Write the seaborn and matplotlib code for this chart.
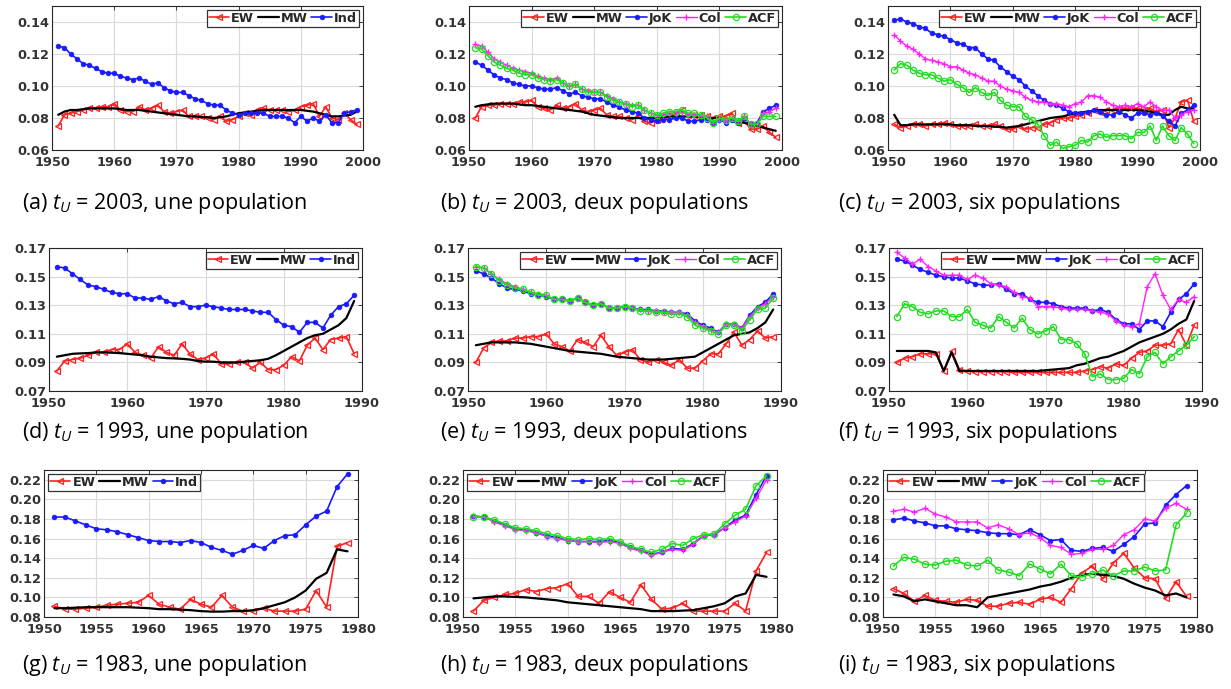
import numpy as np
import pandas as pd
import matplotlib
matplotlib.use("Agg")
import matplotlib.pyplot as plt
import seaborn as sns

# ---------------- data ----------------
years_a = list(range(1951, 2000))
years_d = list(range(1951, 1990))
years_g = list(range(1951, 1980))

# (a) tU=2003, une population
ew_a = [0.075,0.082,0.083,0.084,0.085,0.086,0.086,0.087,0.087,0.089,0.085,0.084,0.084,0.087,0.085,0.086,0.088,0.084,0.083,0.084,
        0.085,0.081,0.081,0.081,0.080,0.079,0.081,0.078,0.079,0.081,0.083,0.082,0.085,0.086,0.085,0.085,0.085,0.084,0.085,0.087,
        0.088,0.089,0.081,0.087,0.080,0.079,0.083,0.079,0.076]
mw_a = [0.082,0.084,0.085,0.085,0.0855,0.086,0.086,0.086,0.086,0.086,0.0855,0.085,0.085,0.085,0.0845,0.084,0.0835,0.083,0.0825,0.082,
        0.0815,0.081,0.081,0.0805,0.0805,0.080,0.0805,0.081,0.082,0.083,0.0835,0.084,0.0845,0.085,0.085,0.085,0.085,0.085,0.085,0.085,
        0.0845,0.084,0.083,0.082,0.081,0.081,0.0815,0.082,0.084]
ind_a = [0.125,0.124,0.120,0.117,0.114,0.113,0.111,0.109,0.108,0.108,0.106,0.105,0.104,0.105,0.103,0.101,0.102,0.099,0.097,0.096,
         0.096,0.094,0.092,0.091,0.089,0.088,0.088,0.085,0.083,0.082,0.083,0.083,0.083,0.083,0.081,0.081,0.081,0.080,0.077,0.081,
         0.078,0.080,0.078,0.082,0.077,0.077,0.083,0.084,0.085]

# (b) tU=2003, deux populations
ew_b = [0.080,0.087,0.088,0.088,0.089,0.089,0.089,0.090,0.090,0.091,0.087,0.086,0.085,0.088,0.086,0.087,0.089,0.085,0.084,0.085,
        0.086,0.082,0.081,0.081,0.080,0.079,0.081,0.078,0.077,0.079,0.081,0.081,0.083,0.085,0.082,0.082,0.082,0.081,0.080,0.081,
        0.081,0.083,0.077,0.078,0.073,0.073,0.075,0.071,0.068]
mw_b = [0.087,0.088,0.0885,0.089,0.089,0.089,0.089,0.0885,0.088,0.088,0.0875,0.087,0.0865,0.086,0.0855,0.085,0.0845,0.084,0.083,0.082,
        0.0815,0.081,0.0805,0.080,0.080,0.080,0.080,0.080,0.080,0.080,0.0805,0.081,0.081,0.081,0.081,0.081,0.0805,0.080,0.080,0.080,
        0.079,0.078,0.0775,0.077,0.076,0.075,0.074,0.073,0.072]
jok_b = [0.115,0.113,0.110,0.107,0.105,0.104,0.102,0.101,0.100,0.100,0.099,0.098,0.098,0.099,0.097,0.095,0.096,0.094,0.093,0.092,
         0.092,0.090,0.088,0.087,0.085,0.084,0.083,0.080,0.079,0.078,0.079,0.079,0.080,0.080,0.078,0.078,0.079,0.079,0.077,0.079,
         0.077,0.079,0.077,0.080,0.076,0.077,0.084,0.086,0.088]
col_b = [0.126,0.125,0.121,0.117,0.115,0.113,0.111,0.110,0.109,0.108,0.106,0.105,0.104,0.105,0.102,0.100,0.101,0.098,0.097,0.096,
         0.096,0.094,0.092,0.090,0.089,0.088,0.088,0.085,0.083,0.082,0.082,0.083,0.083,0.084,0.082,0.082,0.081,0.081,0.077,0.080,
         0.078,0.080,0.078,0.081,0.076,0.076,0.083,0.084,0.086]
acf_b = [0.124,0.123,0.119,0.115,0.113,0.111,0.110,0.108,0.107,0.107,0.105,0.104,0.103,0.104,0.102,0.100,0.101,0.098,0.096,0.096,
         0.096,0.093,0.091,0.090,0.089,0.087,0.088,0.085,0.083,0.082,0.083,0.084,0.084,0.085,0.083,0.083,0.082,0.080,0.077,0.080,
         0.079,0.080,0.078,0.081,0.076,0.076,0.081,0.081,0.081]

# (c) tU=2003, six populations
ew_c = [0.076,0.074,0.075,0.076,0.076,0.075,0.076,0.076,0.077,0.076,0.075,0.075,0.075,0.076,0.075,0.075,0.076,0.075,0.073,0.073,
        0.075,0.073,0.074,0.074,0.076,0.077,0.079,0.080,0.080,0.081,0.082,0.083,0.085,0.084,0.085,0.085,0.086,0.086,0.086,0.086,
        0.085,0.086,0.084,0.085,0.074,0.080,0.090,0.091,0.078]
mw_c = [0.082,0.0755,0.0755,0.076,0.076,0.076,0.076,0.076,0.076,0.076,0.0755,0.0755,0.0755,0.075,0.075,0.075,0.0745,0.0745,0.074,0.0745,
        0.075,0.076,0.077,0.078,0.079,0.080,0.0805,0.081,0.082,0.083,0.0835,0.084,0.0845,0.085,0.085,0.085,0.085,0.085,0.085,0.085,
        0.0845,0.084,0.083,0.082,0.082,0.085,0.087,0.086,0.086]
jok_c = [0.141,0.142,0.140,0.139,0.137,0.136,0.133,0.132,0.131,0.129,0.127,0.126,0.124,0.124,0.120,0.117,0.116,0.112,0.109,0.106,
         0.104,0.100,0.097,0.094,0.091,0.089,0.088,0.086,0.084,0.083,0.083,0.084,0.085,0.084,0.082,0.082,0.084,0.082,0.080,0.083,
         0.083,0.082,0.083,0.081,0.078,0.075,0.083,0.085,0.088]
col_c = [0.132,0.128,0.125,0.123,0.120,0.117,0.116,0.115,0.114,0.112,0.112,0.110,0.108,0.107,0.105,0.103,0.103,0.100,0.098,0.097,
         0.096,0.093,0.091,0.090,0.090,0.089,0.089,0.088,0.087,0.089,0.090,0.094,0.094,0.093,0.090,0.088,0.087,0.088,0.087,0.089,
         0.087,0.090,0.087,0.085,0.085,0.080,0.082,0.084,0.085]
acf_c = [0.110,0.114,0.113,0.110,0.108,0.107,0.107,0.105,0.103,0.104,0.101,0.099,0.096,0.099,0.096,0.094,0.096,0.091,0.088,0.087,
         0.087,0.081,0.079,0.076,0.069,0.063,0.065,0.061,0.062,0.063,0.066,0.065,0.069,0.070,0.068,0.069,0.069,0.069,0.067,0.071,
         0.071,0.075,0.066,0.075,0.069,0.066,0.074,0.070,0.064]

# (d) tU=1993, une population
ew_d = [0.084,0.091,0.092,0.093,0.095,0.097,0.097,0.099,0.099,0.103,0.097,0.095,0.093,0.101,0.097,0.095,0.103,0.096,0.092,0.093,
        0.096,0.089,0.089,0.090,0.090,0.086,0.090,0.085,0.085,0.088,0.094,0.091,0.102,0.107,0.099,0.106,0.107,0.108,0.096]
mw_d = [0.094,0.095,0.096,0.0963,0.0965,0.097,0.097,0.0968,0.0965,0.096,0.0955,0.095,0.094,0.0935,0.093,0.0928,0.0925,0.092,0.091,0.0905,
        0.0905,0.090,0.090,0.090,0.0905,0.091,0.0915,0.0925,0.095,0.098,0.101,0.104,0.107,0.109,0.110,0.113,0.116,0.121,0.133]
ind_d = [0.157,0.156,0.152,0.148,0.144,0.143,0.141,0.139,0.138,0.138,0.135,0.135,0.134,0.136,0.133,0.131,0.132,0.129,0.129,0.130,
         0.129,0.128,0.127,0.127,0.127,0.126,0.125,0.125,0.120,0.116,0.115,0.111,0.118,0.118,0.114,0.123,0.129,0.131,0.137]

# (e) tU=1993, deux populations
ew_e = [0.090,0.100,0.104,0.105,0.105,0.107,0.107,0.108,0.108,0.110,0.103,0.101,0.098,0.106,0.104,0.101,0.109,0.101,0.095,0.097,
        0.099,0.092,0.090,0.092,0.090,0.088,0.092,0.086,0.086,0.091,0.096,0.096,0.103,0.111,0.102,0.106,0.112,0.107,0.108]
mw_e = [0.102,0.103,0.104,0.104,0.104,0.104,0.1035,0.103,0.102,0.101,0.100,0.099,0.098,0.0975,0.097,0.0965,0.096,0.095,0.094,0.0935,
        0.093,0.0925,0.092,0.092,0.092,0.0925,0.093,0.0935,0.094,0.097,0.100,0.103,0.106,0.109,0.110,0.111,0.114,0.118,0.127]
jok_e = [0.154,0.152,0.149,0.145,0.142,0.141,0.140,0.138,0.137,0.136,0.134,0.134,0.133,0.135,0.132,0.130,0.131,0.128,0.128,0.129,
         0.128,0.127,0.127,0.126,0.126,0.125,0.125,0.124,0.119,0.116,0.114,0.111,0.117,0.117,0.114,0.123,0.129,0.132,0.138]
col_e = [0.157,0.156,0.152,0.148,0.145,0.143,0.141,0.139,0.138,0.137,0.134,0.134,0.133,0.135,0.132,0.130,0.131,0.128,0.128,0.129,
         0.128,0.127,0.126,0.126,0.125,0.125,0.125,0.123,0.118,0.115,0.113,0.111,0.117,0.117,0.114,0.122,0.128,0.131,0.136]
acf_e = [0.157,0.156,0.152,0.147,0.144,0.142,0.141,0.139,0.137,0.137,0.134,0.134,0.133,0.135,0.132,0.130,0.131,0.128,0.128,0.129,
         0.128,0.126,0.126,0.125,0.125,0.124,0.124,0.122,0.116,0.114,0.112,0.110,0.116,0.116,0.112,0.120,0.127,0.128,0.135]

# (f) tU=1993, six populations
ew_f = [0.090,0.093,0.094,0.096,0.096,0.096,0.084,0.098,0.085,0.084,0.0835,0.0835,0.0835,0.0835,0.0835,0.083,0.083,0.083,0.083,0.083,
        0.083,0.083,0.083,0.083,0.084,0.085,0.087,0.086,0.089,0.088,0.093,0.097,0.098,0.102,0.102,0.103,0.113,0.102,0.116]
mw_f = [0.098,0.098,0.098,0.098,0.098,0.097,0.084,0.097,0.084,0.084,0.084,0.084,0.084,0.084,0.084,0.084,0.084,0.084,0.084,0.0845,
        0.085,0.0855,0.086,0.088,0.089,0.091,0.093,0.094,0.096,0.098,0.101,0.104,0.106,0.108,0.110,0.113,0.117,0.120,0.133]
jok_f = [0.162,0.161,0.158,0.155,0.153,0.151,0.150,0.149,0.149,0.147,0.145,0.144,0.144,0.145,0.141,0.138,0.138,0.134,0.132,0.132,
         0.131,0.129,0.128,0.128,0.128,0.126,0.127,0.125,0.120,0.117,0.117,0.113,0.119,0.119,0.115,0.125,0.134,0.138,0.145]
col_f = [0.167,0.163,0.159,0.162,0.157,0.154,0.151,0.151,0.151,0.148,0.151,0.149,0.145,0.144,0.143,0.139,0.136,0.135,0.129,0.129,
         0.129,0.128,0.127,0.127,0.127,0.126,0.125,0.124,0.119,0.116,0.115,0.117,0.143,0.152,0.137,0.127,0.134,0.132,0.136]
acf_f = [0.122,0.131,0.129,0.125,0.124,0.126,0.126,0.122,0.122,0.127,0.118,0.116,0.114,0.122,0.118,0.114,0.121,0.113,0.110,0.112,
         0.115,0.106,0.106,0.103,0.096,0.080,0.082,0.078,0.078,0.079,0.085,0.082,0.094,0.097,0.089,0.094,0.098,0.102,0.108]

# (g) tU=1983, une population
ew_g = [0.091,0.088,0.088,0.089,0.090,0.092,0.093,0.094,0.095,0.102,0.093,0.090,0.088,0.098,0.093,0.090,0.102,0.090,0.086,0.086,
        0.089,0.086,0.086,0.086,0.088,0.107,0.090,0.152,0.156]
mw_g = [0.089,0.089,0.0895,0.090,0.090,0.090,0.090,0.090,0.0895,0.089,0.088,0.088,0.0875,0.087,0.086,0.0855,0.0855,0.086,0.086,0.087,
        0.089,0.092,0.095,0.100,0.107,0.119,0.125,0.149,0.147]
ind_g = [0.182,0.182,0.178,0.174,0.170,0.169,0.167,0.164,0.161,0.158,0.157,0.157,0.156,0.158,0.156,0.151,0.148,0.144,0.148,0.153,
         0.150,0.158,0.163,0.164,0.174,0.183,0.188,0.213,0.226]

# (h) tU=1983, deux populations
ew_h = [0.086,0.097,0.100,0.103,0.104,0.108,0.106,0.109,0.110,0.114,0.101,0.101,0.094,0.106,0.100,0.095,0.113,0.098,0.088,0.089,
        0.094,0.086,0.086,0.086,0.086,0.094,0.086,0.127,0.146]
mw_h = [0.099,0.100,0.101,0.101,0.1005,0.100,0.099,0.098,0.097,0.095,0.094,0.093,0.092,0.091,0.090,0.089,0.088,0.086,0.086,0.086,
        0.0865,0.087,0.089,0.091,0.094,0.101,0.104,0.123,0.121]
jok_h = [0.183,0.182,0.178,0.174,0.170,0.169,0.166,0.163,0.161,0.158,0.157,0.157,0.157,0.158,0.156,0.151,0.148,0.144,0.146,0.150,
         0.149,0.155,0.163,0.164,0.171,0.179,0.184,0.205,0.224]
col_h = [0.183,0.182,0.177,0.173,0.169,0.168,0.166,0.162,0.160,0.158,0.157,0.157,0.156,0.157,0.155,0.150,0.147,0.143,0.146,0.149,
         0.148,0.154,0.163,0.164,0.171,0.177,0.183,0.201,0.220]
acf_h = [0.182,0.182,0.179,0.175,0.171,0.170,0.168,0.165,0.163,0.160,0.159,0.160,0.159,0.160,0.157,0.152,0.149,0.146,0.149,0.155,
         0.153,0.160,0.164,0.165,0.175,0.184,0.190,0.214,0.224]

# (i) tU=1983, six populations
ew_i = [0.109,0.104,0.096,0.102,0.097,0.096,0.095,0.098,0.097,0.091,0.091,0.094,0.095,0.093,0.098,0.100,0.095,0.109,0.125,0.132,
        0.119,0.135,0.145,0.130,0.120,0.119,0.099,0.116,0.101]
mw_i = [0.103,0.101,0.096,0.098,0.096,0.094,0.092,0.092,0.090,0.100,0.102,0.104,0.106,0.108,0.111,0.113,0.116,0.120,0.123,0.124,
        0.123,0.122,0.119,0.114,0.110,0.107,0.102,0.104,0.100]
jok_i = [0.179,0.181,0.178,0.176,0.173,0.173,0.170,0.169,0.168,0.166,0.165,0.165,0.164,0.169,0.164,0.158,0.159,0.148,0.147,0.150,
         0.151,0.147,0.154,0.162,0.175,0.176,0.194,0.205,0.214]
col_i = [0.188,0.190,0.187,0.191,0.185,0.182,0.177,0.177,0.177,0.171,0.174,0.170,0.164,0.166,0.161,0.153,0.151,0.144,0.145,0.149,
         0.149,0.153,0.164,0.169,0.180,0.178,0.191,0.196,0.190]
acf_i = [0.132,0.141,0.139,0.134,0.133,0.137,0.138,0.133,0.132,0.138,0.128,0.126,0.122,0.134,0.129,0.124,0.134,0.122,0.121,0.124,
         0.128,0.122,0.127,0.127,0.131,0.127,0.128,0.174,0.186]

captions = [
    "(a) $t_U$ = 2003, une population", "(b) $t_U$ = 2003, deux populations", "(c) $t_U$ = 2003, six populations",
    "(d) $t_U$ = 1993, une population", "(e) $t_U$ = 1993, deux populations", "(f) $t_U$ = 1993, six populations",
    "(g) $t_U$ = 1983, une population", "(h) $t_U$ = 1983, deux populations", "(i) $t_U$ = 1983, six populations",
]

# ---------------- styling ----------------
sns.set_theme(style="white")
plt.rcParams['font.family'] = ['DejaVu Sans']
plt.rcParams['mathtext.fontset'] = 'custom'
plt.rcParams['mathtext.it'] = 'Open Sans:italic'
plt.rcParams['mathtext.rm'] = 'Open Sans'

W, H = 1231, 689
fig = plt.figure(figsize=(W / 100, H / 100), dpi=100)
fig.patch.set_facecolor("white")

def rect(l, t, r, b):
    return [l / W, 1 - b / H, (r - l) / W, (b - t) / H]

rects = [
    (52, 6, 363, 150), (469, 6, 782, 150), (888, 6, 1200, 150),
    (49, 248, 362, 391), (468, 248, 781, 391), (889, 248, 1202, 391),
    (44, 470, 358, 617), (463, 470, 777, 617), (883, 470, 1197, 617),
]

RED, BLUE, MAG, GRN = "#ff2020", "#1a1aff", "#ff20ff", "#22dd22"
styles = {
    "EW": dict(color=RED, marker="<", markersize=5, markerfacecolor="none", markeredgecolor=RED,
               markeredgewidth=0.9, linewidth=1.2),
    "MW": dict(color="black", marker=None, linewidth=1.6),
    "Ind": dict(color=BLUE, marker="o", markersize=3.4, markerfacecolor=BLUE, markeredgecolor=BLUE,
                markeredgewidth=0.5, linewidth=1.2),
    "JoK": dict(color=BLUE, marker="o", markersize=3.4, markerfacecolor=BLUE, markeredgecolor=BLUE,
                markeredgewidth=0.5, linewidth=1.2),
    "Col": dict(color=MAG, marker="+", markersize=4.5, markeredgecolor=MAG, markeredgewidth=1.0, linewidth=1.0),
    "ACF": dict(color=GRN, marker="o", markersize=4.5, markerfacecolor="none", markeredgecolor=GRN,
                markeredgewidth=0.9, linewidth=1.2),
}

panels = [
    (years_a, [("EW", ew_a), ("MW", mw_a), ("Ind", ind_a)]),
    (years_a, [("EW", ew_b), ("MW", mw_b), ("JoK", jok_b), ("Col", col_b), ("ACF", acf_b)]),
    (years_a, [("EW", ew_c), ("MW", mw_c), ("JoK", jok_c), ("Col", col_c), ("ACF", acf_c)]),
    (years_d, [("EW", ew_d), ("MW", mw_d), ("Ind", ind_d)]),
    (years_d, [("EW", ew_e), ("MW", mw_e), ("JoK", jok_e), ("Col", col_e), ("ACF", acf_e)]),
    (years_d, [("EW", ew_f), ("MW", mw_f), ("JoK", jok_f), ("Col", col_f), ("ACF", acf_f)]),
    (years_g, [("EW", ew_g), ("MW", mw_g), ("Ind", ind_g)]),
    (years_g, [("EW", ew_h), ("MW", mw_h), ("JoK", jok_h), ("Col", col_h), ("ACF", acf_h)]),
    (years_g, [("EW", ew_i), ("MW", mw_i), ("JoK", jok_i), ("Col", col_i), ("ACF", acf_i)]),
]

row_cfg = [
    dict(xlim=(1950, 2000), xt=np.arange(1950, 2001, 10), ylim=(0.06, 0.15), yt=np.arange(0.06, 0.141, 0.02), loc="upper right"),
    dict(xlim=(1950, 1990), xt=np.arange(1950, 1991, 10), ylim=(0.07, 0.17), yt=np.arange(0.07, 0.171, 0.02), loc="upper right"),
    dict(xlim=(1950, 1980), xt=np.arange(1950, 1981, 5), ylim=(0.08, 0.23), yt=np.arange(0.08, 0.221, 0.02), loc="upper left"),
]

caption_xy = [(22, 203), (440, 203), (838, 203),
              (22, 433), (440, 433), (838, 433),
              (22, 665), (440, 665), (838, 665)]

for k, ((yrs, series), rc) in enumerate(zip(panels, rects)):
    ax = fig.add_axes(rect(*rc))
    cfg = row_cfg[k // 3]
    for name, vals in series:
        df = pd.DataFrame({"year": yrs, "val": vals})
        st = dict(styles[name])
        sns.lineplot(data=df, x="year", y="val", ax=ax, label=name, linestyle="-", **st)
    ax.set_xlim(*cfg["xlim"])
    ax.set_ylim(*cfg["ylim"])
    ax.set_xticks(cfg["xt"])
    ax.set_yticks(cfg["yt"])
    ax.set_yticklabels([f"{v:.2f}" for v in cfg["yt"]])
    ax.set_xlabel("")
    ax.set_ylabel("")
    ax.grid(True, color="#d9d9d9", linewidth=0.8)
    ax.set_axisbelow(True)
    for sp in ax.spines.values():
        sp.set_visible(True)
        sp.set_color("#262626")
        sp.set_linewidth(0.8)
    ax.tick_params(axis="both", direction="in", length=3, width=0.6, labelsize=9.3,
                   labelcolor="#333333", top=True, right=True)
    ax.tick_params(axis="x", pad=4.5)
    ax.tick_params(axis="y", pad=2)
    for lab in ax.get_xticklabels() + ax.get_yticklabels():
        lab.set_fontweight("bold")
    leg = ax.legend(loc=cfg["loc"], ncol=len(series), frameon=True, fancybox=False,
                    prop=dict(weight="bold", size=9.3), handlelength=1.6, handletextpad=0.15,
                    columnspacing=0.3, borderpad=0.15, borderaxespad=0.3, markerscale=1.0)
    leg.get_frame().set_edgecolor("black")
    leg.get_frame().set_linewidth(0.9)
    cx, cy = caption_xy[k]
    fig.text(cx / W, 1 - cy / H, captions[k], fontsize=15.5, family="Open Sans",
             ha="left", va="center", color="black")

fig.savefig("out.png", dpi=100, facecolor="white")
